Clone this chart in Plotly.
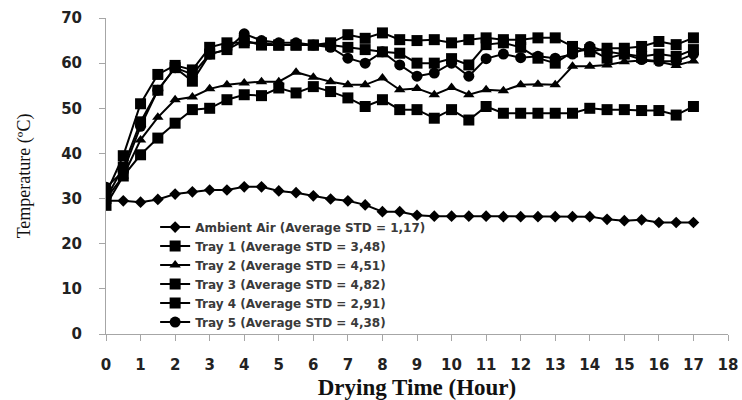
import plotly.graph_objects as go

hours = [0, 0.5, 1, 1.5, 2, 2.5, 3, 3.5, 4, 4.5, 5, 5.5, 6, 6.5, 7, 7.5, 8, 8.5,
         9, 9.5, 10, 10.5, 11, 11.5, 12, 12.5, 13, 13.5, 14, 14.5, 15, 15.5, 16, 16.5, 17]

ambient = [29.5, 29.5, 29.2, 29.8, 31.0, 31.5, 31.9, 31.9, 32.6, 32.6, 31.7, 31.3, 30.6, 29.9,
           29.5, 28.6, 27.1, 27.1, 26.3, 26.1, 26.1, 26.1, 26.1, 26.0, 26.0, 26.0, 26.0, 26.0,
           26.0, 25.4, 25.1, 25.3, 24.7, 24.7, 24.7]
tray1 = [28.5, 35.0, 39.7, 43.4, 46.7, 49.7, 50.0, 51.9, 53.0, 52.8, 54.5, 53.4, 54.8, 53.7,
         52.3, 50.4, 51.9, 49.7, 49.7, 47.8, 49.7, 47.4, 50.4, 48.9, 48.9, 48.9, 48.9, 48.9,
         50.0, 49.7, 49.7, 49.5, 49.5, 48.5, 50.4]
tray2 = [30.0, 35.0, 43.0, 48.0, 51.9, 52.5, 54.3, 55.2, 55.6, 55.9, 55.9, 58.0, 56.9, 55.9,
         55.2, 55.2, 56.7, 54.1, 54.4, 53.0, 54.6, 53.0, 54.1, 53.9, 55.2, 55.3, 55.2, 59.3,
         59.3, 59.6, 60.3, 60.6, 60.3, 59.5, 60.5]
tray3 = [30.0, 37.0, 47.0, 54.0, 59.0, 56.0, 62.0, 63.0, 65.0, 64.0, 64.0, 64.0, 64.0, 64.0,
         63.5, 63.0, 62.5, 62.2, 60.0, 60.0, 61.0, 59.6, 64.1, 64.5, 63.5, 61.1, 60.0, 62.5,
         63.0, 61.1, 62.0, 61.5, 62.0, 61.5, 63.0]
tray4 = [31.0, 39.5, 51.0, 57.5, 59.5, 58.5, 63.5, 64.5, 64.5, 64.5, 64.0, 64.0, 64.0, 64.5,
         66.3, 65.5, 66.7, 65.2, 65.0, 65.2, 64.5, 65.2, 65.6, 65.2, 65.2, 65.6, 65.6, 63.7,
         62.5, 63.3, 63.3, 63.7, 64.8, 64.1, 65.6]
tray5 = [32.5, 36.0, 46.0, 54.0, 59.0, 57.5, 62.0, 63.0, 66.5, 65.0, 64.5, 64.5, 64.0, 63.5,
         61.1, 60.0, 62.5, 59.6, 57.1, 57.8, 60.0, 57.1, 61.0, 62.0, 61.2, 61.5, 61.1, 62.0,
         63.7, 62.5, 62.0, 60.8, 60.4, 60.4, 62.0]

names = ["Ambient Air (Average STD = 1,17)",
         "Tray 1 (Average STD = 3,48)",
         "Tray 2 (Average STD = 4,51)",
         "Tray 3 (Average STD = 4,82)",
         "Tray 4 (Average STD = 2,91)",
         "Tray 5 (Average STD = 4,38)"]
x_ticks = [0, 1, 2, 3, 4, 5, 6, 7, 8, 9, 10, 11, 12, 13, 14, 15, 16, 17, 18]
y_ticks = [0, 10, 20, 30, 40, 50, 60, 70]

series = [ambient, tray1, tray2, tray3, tray4, tray5]
symbols = ["diamond", "square", "triangle-up", "square", "square", "circle"]
sizes = [9, 11, 10, 11, 11, 11]

fig = go.Figure()
for name, ys, sym, sz in zip(names, series, symbols, sizes):
    fig.add_trace(go.Scatter(
        x=hours, y=ys, name=name, mode="lines+markers",
        line=dict(color="black", width=2),
        marker=dict(symbol=sym, size=sz, color="black"),
    ))

fig.update_layout(
    width=742, height=400,
    margin=dict(l=106, r=14, t=18, b=66),
    paper_bgcolor="white", plot_bgcolor="white",
    showlegend=True,
    legend=dict(x=0.079, y=0.188, xanchor="left", yanchor="middle",
                bgcolor="rgba(0,0,0,0)",
                font=dict(family="DejaVu Sans", size=12, color="#3a3a3a", weight="bold"),
                tracegroupgap=0, itemwidth=30),
    xaxis=dict(range=[0, 18], tickvals=x_ticks, ticktext=[str(v) for v in x_ticks],
               automargin=False,
               showgrid=False, zeroline=False, showline=True, linecolor="#a6a6a6",
               linewidth=1, ticks="outside", tickcolor="#a6a6a6", ticklen=6,
               ticklabelstandoff=11,
               tickfont=dict(family="DejaVu Sans", size=15, color="#222222", weight="bold"),
               title=dict(text="<b>Drying Time (Hour)</b>",
                          font=dict(family="Liberation Serif", size=23, color="#111111"),
                          standoff=12)),
    yaxis=dict(range=[0, 70], tickvals=y_ticks, ticktext=[str(v) for v in y_ticks],
               automargin=False,
               showgrid=False, zeroline=False, showline=True, linecolor="#a6a6a6",
               linewidth=1, ticks="outside", tickcolor="#a6a6a6", ticklen=6,
               ticklabelstandoff=14,
               tickfont=dict(family="DejaVu Sans", size=15, color="#222222", weight="bold"),
               title=dict(text="Temperature (ºC)",
                          font=dict(family="Liberation Serif", size=18, color="#111111"),
                          standoff=25)),
)

fig.write_html("out.html")
